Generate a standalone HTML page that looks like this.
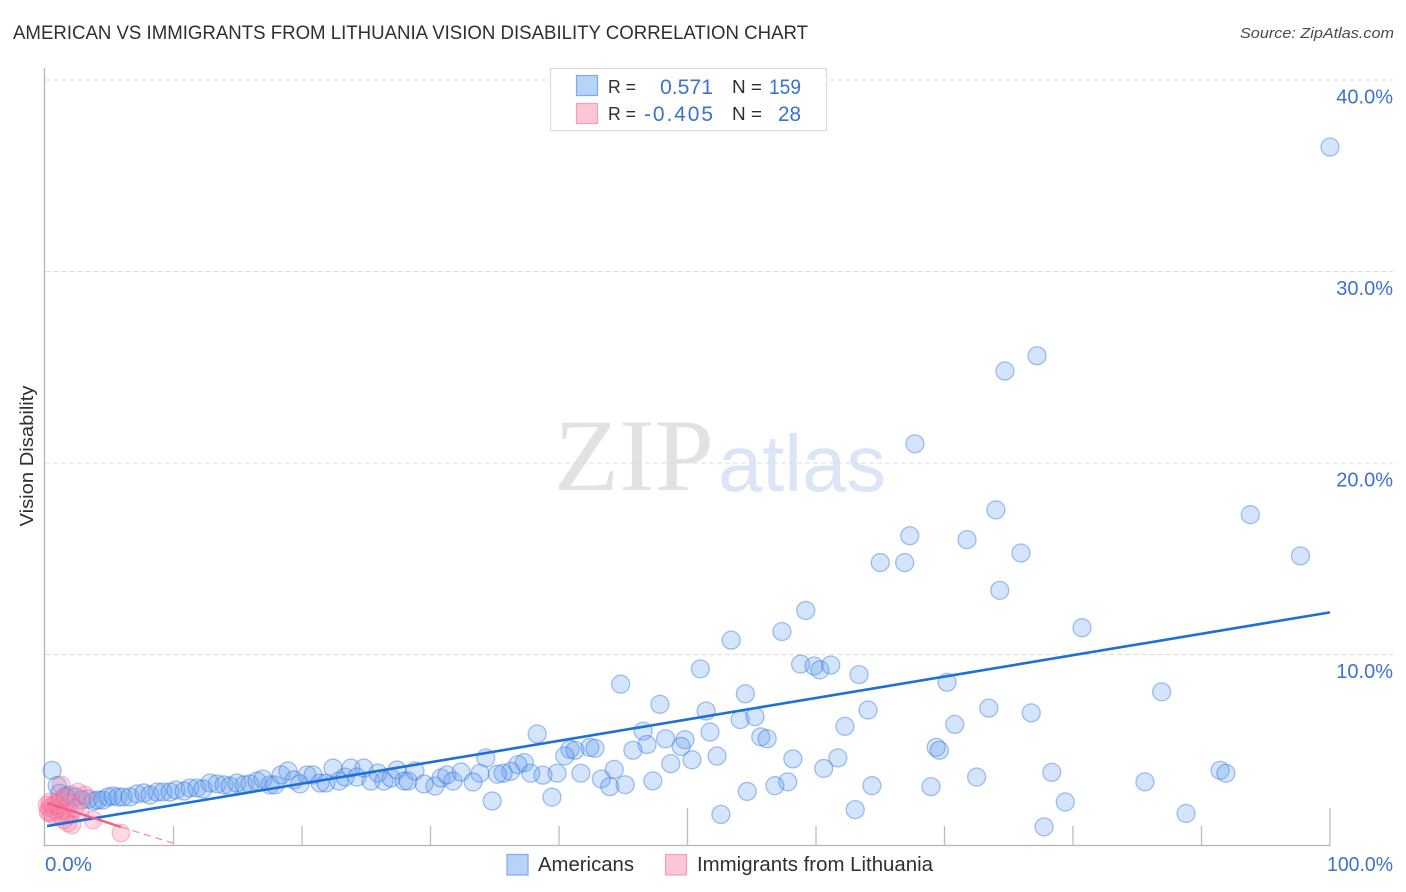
<!DOCTYPE html>
<html lang="en">
<head>
<meta charset="utf-8">
<title>American vs Immigrants from Lithuania Vision Disability Correlation Chart</title>
<style>
html,body{margin:0;padding:0;background:#fff;width:1406px;height:892px;overflow:hidden}
svg{display:block;font-family:"Liberation Sans",sans-serif}
</style>
</head>
<body>
<svg id="chart" width="1406" height="892" viewBox="0 0 1406 892" xmlns="http://www.w3.org/2000/svg">
  <text x="13" y="39" font-size="19" fill="#2b2f36" textLength="795" lengthAdjust="spacingAndGlyphs">AMERICAN VS IMMIGRANTS FROM LITHUANIA VISION DISABILITY CORRELATION CHART</text>
  <text x="1394" y="38" font-size="15" font-style="italic" fill="#444b55" text-anchor="end" textLength="154" lengthAdjust="spacingAndGlyphs">Source: ZipAtlas.com</text>

  <g>
    <text x="554" y="490" font-size="103" fill="#e2e2e2" font-family="'Liberation Serif',serif" textLength="160" lengthAdjust="spacingAndGlyphs">ZIP</text>
    <text x="718" y="491" font-size="80" fill="#dae5f5" textLength="168" lengthAdjust="spacingAndGlyphs">atlas</text>
  </g>

  <g id="grid"></g>
  <g id="axes"></g>
  <g id="american-points"></g>
  <g id="lithuania-points"></g>
  <g id="trends"></g>
  <g id="tick-labels"></g>

  <text transform="translate(33,456) rotate(-90)" font-size="18" fill="#2b2f36" text-anchor="middle" textLength="141" lengthAdjust="spacingAndGlyphs">Vision Disability</text>

  <g>
    <rect x="550.5" y="68.5" width="276" height="62" fill="#fff" stroke="#dcdcdc" stroke-width="1.2"/>
    <rect x="576.5" y="75.5" width="21" height="20" fill="#b9d3f7" stroke="#7eaae8" stroke-width="1.2"/>
    <rect x="576.5" y="103.5" width="21" height="20" fill="#fcc6d6" stroke="#f2a0b8" stroke-width="1.2"/>
    <text x="608" y="93" font-size="18" fill="#2b2f36" textLength="28" lengthAdjust="spacingAndGlyphs">R =</text>
    <text x="713" y="94" font-size="21" fill="#3b72d2" text-anchor="end" textLength="53" lengthAdjust="spacingAndGlyphs">0.571</text>
    <text x="732" y="93" font-size="18" fill="#2b2f36" textLength="30" lengthAdjust="spacingAndGlyphs">N =</text>
    <text x="801" y="94" font-size="21" fill="#3b72d2" text-anchor="end" textLength="32" lengthAdjust="spacingAndGlyphs">159</text>
    <text x="608" y="120" font-size="18" fill="#2b2f36" textLength="28" lengthAdjust="spacingAndGlyphs">R =</text>
    <text x="713" y="121" font-size="21" fill="#3b72d2" text-anchor="end" textLength="69" lengthAdjust="spacing">-0.405</text>
    <text x="732" y="120" font-size="18" fill="#2b2f36" textLength="30" lengthAdjust="spacingAndGlyphs">N =</text>
    <text x="801" y="121" font-size="21" fill="#3b72d2" text-anchor="end" textLength="23" lengthAdjust="spacingAndGlyphs">28</text>
  </g>

  <g>
    <g>
      <rect x="507" y="854.5" width="21" height="20.5" fill="#b9d3f7" stroke="#7eaae8" stroke-width="1.2"/>
      <text x="538" y="871" font-size="20" fill="#2b2f36" textLength="96" lengthAdjust="spacingAndGlyphs">Americans</text>
    </g>
    <g>
      <rect x="665.5" y="854.5" width="21" height="20.5" fill="#fcc6d6" stroke="#f2a0b8" stroke-width="1.2"/>
      <text x="697" y="871" font-size="20" fill="#2b2f36" textLength="236" lengthAdjust="spacingAndGlyphs">Immigrants from Lithuania</text>
    </g>
  </g>
</svg>

<script>
var xTickValues = [0,10,20,30,40,50,60,70,80,90,100];
var xMajorTicks = [50,100];
var yGridValues = [10,20,30,40];
var yTickLabels = ["10.0%","20.0%","30.0%","40.0%"];
var xEndLabels = ["0.0%","100.0%"];

var americanX = [100,77.2,74.7,67.7,74.0,93.8,67.3,71.75,75.95,97.7,65.0,66.9,74.3,59.2,57.35,80.7,53.4,51.0,58.8,59.85,60.3,61.15,63.35,44.8,70.2,54.5,86.9,47.85,51.45,73.45,76.75,64.05,54.1,55.25,62.25,70.8,38.3,46.55,51.75,48.3,49.8,55.7,56.2,49.5,46.85,45.75,40.85,41.25,42.4,42.8,40.45,69.35,69.6,34.3,52.3,50.35,58.2,61.7,48.7,60.6,37.3,36.8,44.3,91.45,91.9,78.35,72.5,43.3,41.7,39.85,38.75,37.8,36.25,35.65,35.2,33.85,47.3,57.8,56.8,85.6,43.95,45.15,64.35,68.95,54.65,39.45,34.8,79.4,63.05,52.6,88.8,77.75,
0.55,0.95,1.15,1.65,1.95,2.41,2.88,3.35,3.81,4.12,4.51,4.9,5.29,5.68,6.07,6.61,7.16,7.7,8.17,8.72,9.18,9.73,10.19,10.82,11.28,11.83,12.3,12.84,13.39,13.93,14.4,14.94,15.49,15.95,16.5,16.96,17.51,17.9,18.37,18.91,19.38,19.84,20.39,20.86,21.4,21.87,22.41,22.88,23.35,23.81,24.28,24.82,25.37,25.91,26.38,26.93,27.39,27.94,28.25,28.79,29.49,30.35,30.82,31.28,31.75,32.37,33.31];
var americanY = [36.5,25.6,24.8,21.0,17.55,17.3,16.2,16.0,15.3,15.15,14.8,14.8,13.35,12.3,11.2,11.4,10.75,9.25,9.5,9.4,9.2,9.45,8.95,8.45,8.55,7.95,8.05,7.4,7.05,7.2,6.95,7.1,6.6,6.75,6.25,6.35,5.85,6.0,5.95,5.6,5.55,5.7,5.6,5.2,5.3,5.0,5.05,5.0,5.15,5.1,4.7,5.15,5.0,4.6,4.7,4.5,4.55,4.6,4.3,4.05,4.35,4.25,4.0,3.95,3.8,3.85,3.6,3.5,3.8,3.8,3.7,3.8,3.9,3.8,3.75,3.8,3.4,3.35,3.15,3.35,3.1,3.2,3.15,3.1,2.85,2.55,2.35,2.3,1.9,1.65,1.7,1.0,
3.95,3.15,2.75,2.6,2.66,2.56,2.4,2.45,2.35,2.4,2.4,2.56,2.61,2.56,2.56,2.56,2.72,2.77,2.66,2.82,2.82,2.82,2.92,2.87,3.03,3.03,2.98,3.29,3.24,3.19,3.13,3.29,3.19,3.24,3.39,3.5,3.19,3.19,3.71,3.92,3.45,3.24,3.71,3.71,3.29,3.29,4.07,3.39,3.6,4.07,3.6,4.07,3.39,3.81,3.39,3.55,3.97,3.39,3.39,3.92,3.24,3.13,3.55,3.71,3.39,3.86,3.34];

var lithuaniaX = [1.25,2.57,0.86,0.54,0.31,0.39,0.62,1.01,1.32,1.63,1.95,1.48,1.79,2.1,1.17,1.56,1.95,2.33,2.72,3.74,5.91,0.78,0.16,0.23,1.17,1.01,3.11,0.39];
var lithuaniaY = [3.19,2.82,2.25,2.09,1.98,1.72,1.62,1.98,1.88,1.72,1.62,1.36,1.2,1.1,2.4,2.56,2.25,1.98,1.78,1.36,0.68,1.88,2.14,1.78,1.62,2.14,2.66,2.3];

var americanTrendX = [0.16,100];
var americanTrendY = [1.04,12.2];
var lithuaniaTrendX = [0.16,5.91];
var lithuaniaTrendY = [2.25,0.99];
var lithuaniaDashX = [5.91,10.2];
var lithuaniaDashY = [0.99,0.1];

var SVGNS = "http://www.w3.org/2000/svg";
function xScale(v){ return 45 + v * 12.85; }
function yScale(v){ return 846 - v * 19.15; }
function make(tag, parent, attrs){
  var el = document.createElementNS(SVGNS, tag);
  for (var k in attrs) el.setAttribute(k, attrs[k]);
  parent.appendChild(el);
  return el;
}

var grid = document.getElementById("grid");
yGridValues.forEach(function(v){
  var el = make("line", grid, {x1:45, x2:1393, y1:yScale(v), y2:yScale(v), stroke:"#dddddd", "stroke-width":1, "stroke-dasharray":"5 3"});
  
  
});

var axes = document.getElementById("axes");
var yAxisLine = make("line", axes, {x1:44.5, x2:44.5, y1:68, y2:846.5, stroke:"#b4b4b4", "stroke-width":1.3});


var xAxisLine = make("line", axes, {x1:44, x2:1330.5, y1:845.5, y2:845.5, stroke:"#b4b4b4", "stroke-width":1.3});


xTickValues.forEach(function(v){
  if (v === 0) return;
  var top = xMajorTicks.indexOf(v) >= 0 ? 808 : 826;
  var el = make("line", axes, {x1:xScale(v), x2:xScale(v), y1:top, y2:846, stroke:"#bcbcbc", "stroke-width":1.3});
  
  
});

var amGroup = document.getElementById("american-points");
americanX.forEach(function(v, i){
  var el = make("circle", amGroup, {cx:xScale(v), cy:yScale(americanY[i]), r:9, fill:"rgba(96,156,238,0.27)", stroke:"rgba(45,115,220,0.42)", "stroke-width":1.3});
  
  
});

var liGroup = document.getElementById("lithuania-points");
lithuaniaX.forEach(function(v, i){
  var el = make("circle", liGroup, {cx:xScale(v), cy:yScale(lithuaniaY[i]), r:8.8, fill:"rgba(248,130,165,0.3)", stroke:"rgba(238,100,145,0.4)", "stroke-width":1.2});
  
  
});

var trends = document.getElementById("trends");
var amTrend = make("line", trends, {x1:xScale(americanTrendX[0]), y1:yScale(americanTrendY[0]), x2:xScale(americanTrendX[1]), y2:yScale(americanTrendY[1]), stroke:"#1f6fd8", "stroke-width":2.6});


var liTrend = make("line", trends, {x1:xScale(lithuaniaTrendX[0]), y1:yScale(lithuaniaTrendY[0]), x2:xScale(lithuaniaTrendX[1]), y2:yScale(lithuaniaTrendY[1]), stroke:"#ee5f8c", "stroke-width":2.4});


var liDash = make("line", trends, {x1:xScale(lithuaniaDashX[0]), y1:yScale(lithuaniaDashY[0]), x2:xScale(lithuaniaDashX[1]), y2:yScale(lithuaniaDashY[1]), stroke:"#f08aa8", "stroke-width":1.2, "stroke-dasharray":"7 5"});



var labels = document.getElementById("tick-labels");
yGridValues.forEach(function(v, i){
  var el = make("text", labels, {x:1393, y:yScale(v) + 23.5, "font-size":20, fill:"#3b72d2", "text-anchor":"end"});
  el.textContent = yTickLabels[i];
  
  
});
var x0 = make("text", labels, {x:45, y:871, "font-size":20, fill:"#3b72d2", textLength:47, lengthAdjust:"spacingAndGlyphs"});
x0.textContent = xEndLabels[0];


var x1 = make("text", labels, {x:1393, y:871, "font-size":20, fill:"#3b72d2", "text-anchor":"end", textLength:66, lengthAdjust:"spacingAndGlyphs"});
x1.textContent = xEndLabels[1];


</script>
</body>
</html>
